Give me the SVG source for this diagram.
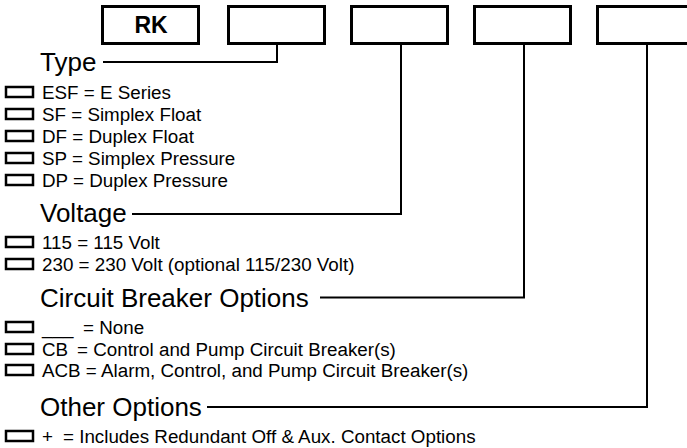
<svg xmlns="http://www.w3.org/2000/svg" width="687" height="448" viewBox="0 0 687 448">
<style>
.big{fill:none;stroke:#000;stroke-width:3}
.sm{fill:none;stroke:#000;stroke-width:2.5}
.ln{fill:none;stroke:#000;stroke-width:2}
.h{font-family:"Liberation Sans",Arial,sans-serif;font-size:26px;fill:#000}
.t{font-family:"Liberation Sans",Arial,sans-serif;font-size:18.8px;fill:#000}
.rk{font-family:"Liberation Sans",Arial,sans-serif;font-size:23px;font-weight:bold;fill:#000}
</style>
<rect width="687" height="448" fill="#fff"/>
<g id="box-rk"><rect class="big" x="102.5" y="6.5" width="96" height="37"/><text class="rk" x="151" y="33" text-anchor="middle">RK</text></g>
<g id="box-type"><rect class="big" x="228.5" y="6.5" width="96" height="37"/></g>
<g id="box-voltage"><rect class="big" x="351.5" y="6.5" width="96" height="37"/></g>
<g id="box-cb"><rect class="big" x="474.5" y="6.5" width="96" height="37"/></g>
<g id="box-other"><rect class="big" x="597.5" y="6.5" width="98" height="37"/></g>
<g id="connectors">
<polyline class="ln" points="277,44 277,62 103,62"/>
<polyline class="ln" points="401,44 401,214 132,214"/>
<polyline class="ln" points="524,44 524,297.5 320,297.5"/>
<polyline class="ln" points="647,44 647,407 207,407"/>
</g>
<g id="type">
<text class="h" x="40" y="71">Type</text>
<rect class="sm" x="6" y="87" width="27" height="10"/><text class="t" x="42" y="99">ESF = E Series</text>
<rect class="sm" x="6" y="109" width="27" height="10"/><text class="t" x="42" y="121">SF = Simplex Float</text>
<rect class="sm" x="6" y="131" width="27" height="10"/><text class="t" x="42" y="143">DF = Duplex Float</text>
<rect class="sm" x="6" y="153" width="27" height="10"/><text class="t" x="42" y="165">SP = Simplex Pressure</text>
<rect class="sm" x="6" y="175" width="27" height="10"/><text class="t" x="42" y="187">DP = Duplex Pressure</text>
</g>
<g id="voltage">
<text class="h" x="40" y="222">Voltage</text>
<rect class="sm" x="6" y="237" width="27" height="10"/><text class="t" x="42" y="249">115 = 115 Volt</text>
<rect class="sm" x="6" y="259" width="27" height="10"/><text class="t" x="42" y="271">230 = 230 Volt (optional 115/230 Volt)</text>
</g>
<g id="circuit-breaker">
<text class="h" x="40" y="307">Circuit Breaker Options</text>
<rect class="sm" x="6" y="322" width="27" height="10"/><text class="t" x="42" y="334">___</text><text class="t" x="83" y="334">= None</text>
<rect class="sm" x="6" y="344" width="27" height="10"/><text class="t" x="42" y="356">CB</text><text class="t" x="77" y="356">= Control and Pump Circuit Breaker(s)</text>
<rect class="sm" x="6" y="365" width="27" height="10"/><text class="t" x="42" y="377">ACB = Alarm, Control, and Pump Circuit Breaker(s)</text>
</g>
<g id="other">
<text class="h" x="40" y="416">Other Options</text>
<rect class="sm" x="6" y="431" width="27" height="10"/><text class="t" x="42" y="443">+</text><text class="t" x="63" y="443">= Includes Redundant Off &amp; Aux. Contact Options</text>
</g>
</svg>
